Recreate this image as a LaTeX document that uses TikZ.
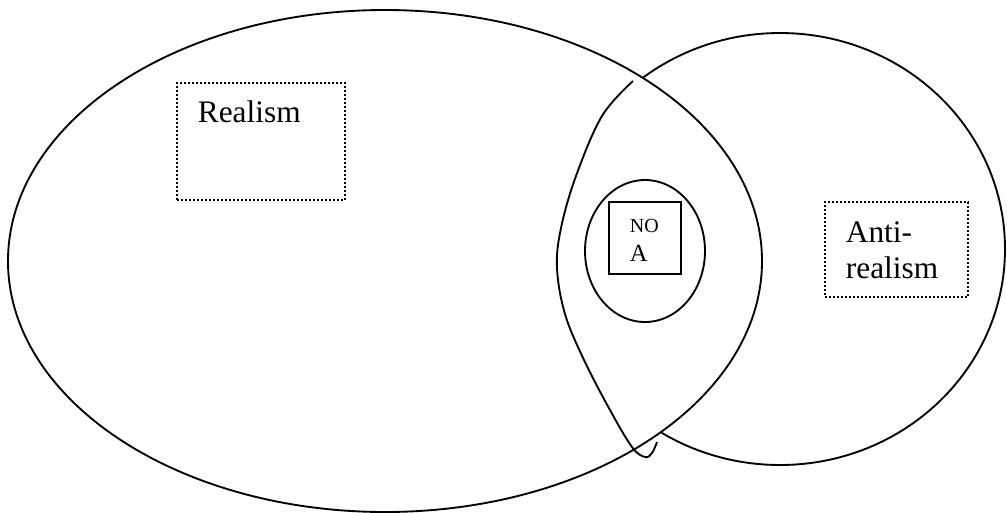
\documentclass[tikz,border=0pt]{standalone}
\usepackage{fontspec}
\setmainfont{Liberation Serif}
\usetikzlibrary{positioning}

\tikzset{
  dotbox/.style={draw, dash pattern=on 1.5pt off 1.5pt, line width=1.5pt, inner sep=0pt},
  plainbox/.style={draw, line width=1.5pt, inner sep=0pt},
  bigfont/.style={font=\fontsize{23.5}{27}\selectfont},
}

\begin{document}
\begin{tikzpicture}[x=0.75pt, y=-0.75pt, line width=1.4pt]
\useasboundingbox (0,0) rectangle (1007,512);
% the two large fields
\draw (385,261) ellipse [x radius=377, y radius=251];
\begin{scope}[even odd rule]
  \clip (-20,-20) rectangle (1030,530) (385,261) ellipse [x radius=377, y radius=251];
  \draw (780,249) ellipse [x radius=225, y radius=216];
\end{scope}
% drop-shaped overlap
\draw plot[smooth, tension=0.6] coordinates {(633,81) (602,116) (576,176) (561,228) (557,268) (565,314) (584,360) (610,410) (632,447) (645,457) (652,453) (657,442)};
% inner field
\draw (645,251) ellipse [x radius=60, y radius=71];
\node[plainbox, minimum width=54pt, minimum height=54pt] (nobox) at (645,238) {};
\node[align=left, anchor=base west, inner sep=0pt, font=\fontsize{15}{21.75}\selectfont] (notxt) at (629,261) {NO\\\fontsize{18.5}{21.75}\selectfont A};
% labels
\node[dotbox, minimum width=126pt, minimum height=87.75pt] (realbox) at (261,141.5) {};
\node[bigfont, anchor=base west, inner sep=0pt] (realtxt) at (197,122) {Realism};
\node[dotbox, minimum width=107.25pt, minimum height=71.25pt] (antibox) at (896.5,249.5) {};
\node[bigfont, align=left, anchor=base west, inner sep=0pt] (antitxt) at (845,278) {Anti-\\realism};
\end{tikzpicture}
\end{document}
